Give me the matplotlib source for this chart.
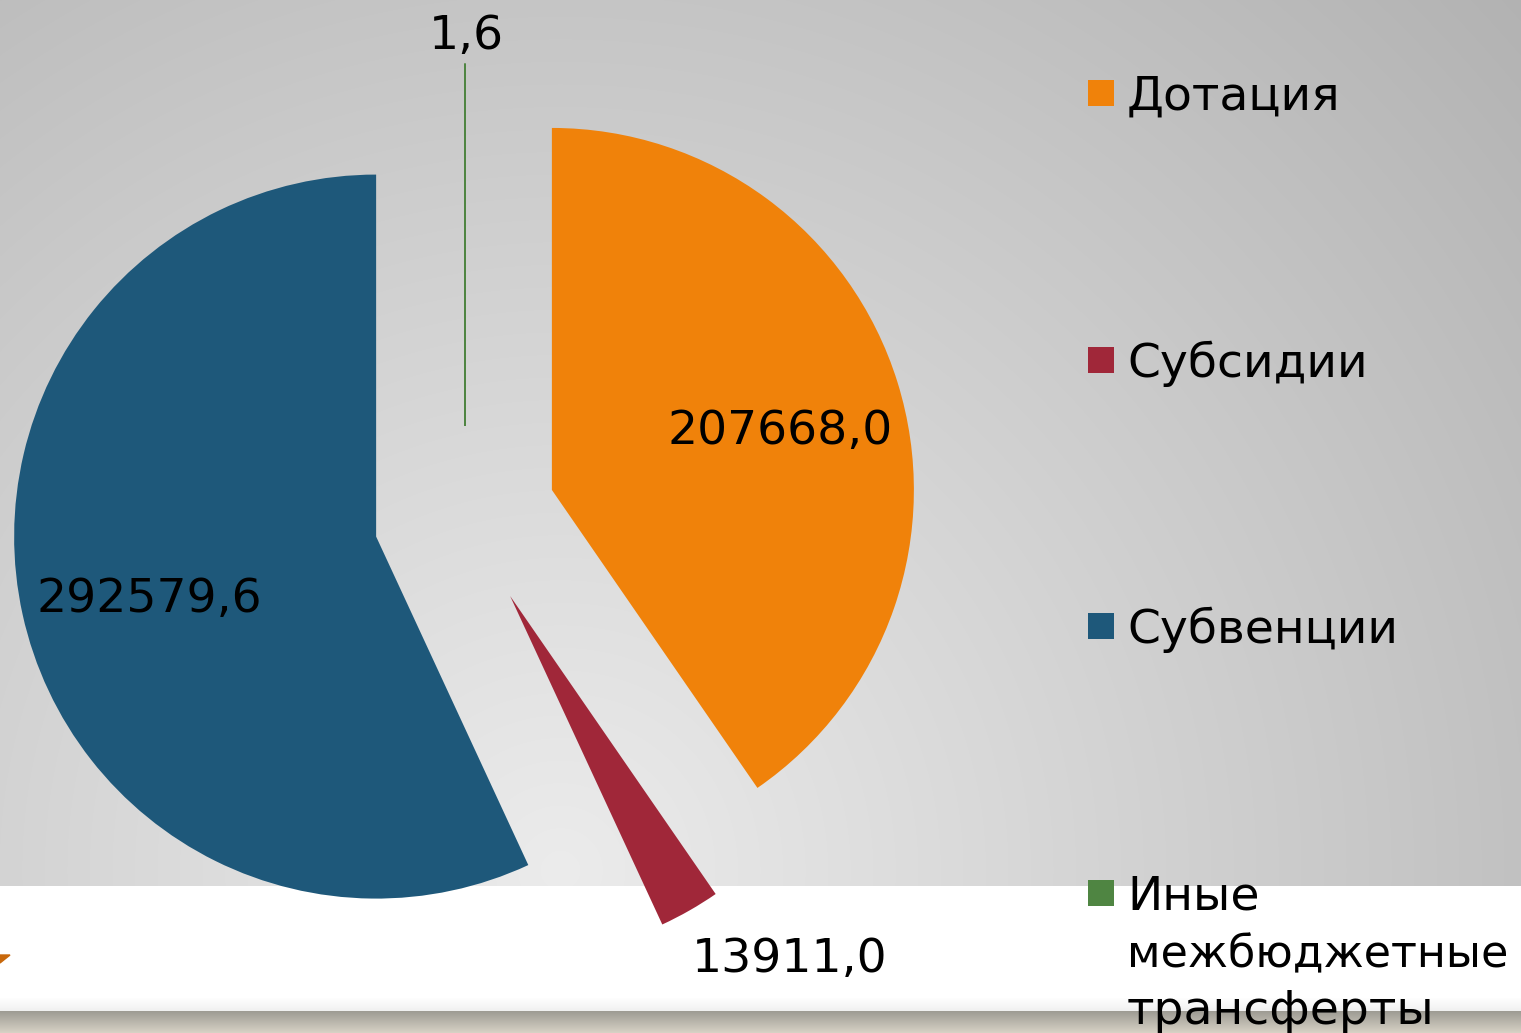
import numpy as np
import matplotlib.pyplot as plt
from matplotlib.patches import Rectangle, Polygon

# data
labels = ["Дотация", "Субсидии", "Субвенции", "Иные\nмежбюджетные\nтрансферты"]
values = [207668.0, 13911.0, 292579.6, 1.6]
value_text = ["207668,0", "13911,0", "292579,6", "1,6"]
colors = ["#F0820A", "#A02739", "#1E587A", "#4F8542"]

W, H = 1521, 1033
plt.rcParams['font.family'] = ['DejaVu Sans']
FS = 34
DY = -4  # nudge text down a little

fig = plt.figure(figsize=(W / 100, H / 100), dpi=100)
ax = fig.add_axes([0, 0, 1, 1])

# slide background: radial grey, white band, dark strip at the bottom
yy, xx = np.mgrid[0:H, 0:W]
d = np.hypot(xx - 560, yy - 870)
g = 0.925 - 0.000174 * d
bg = np.dstack([g, g, g])
band = (yy >= 886) & (yy < 1011)
fade = np.clip((yy - 997) / 14.0, 0, 1)
white = 1.0 - 0.06 * fade
for c in range(3):
    bg[..., c][band] = white[band]
strip = yy >= 1011
t = np.clip((yy - 1011) / 22.0, 0, 1)
top = np.array([0.62, 0.61, 0.58])
bot = np.array([0.85, 0.83, 0.78])
for c in range(3):
    col = top[c] + t * (bot[c] - top[c])
    bg[..., c][strip] = col[strip]
ax.imshow(bg, extent=(0, W, 0, H), origin='upper', zorder=-2, aspect='auto')
ax.add_patch(Polygon([(0, H - 955), (10, H - 955), (0, H - 963)],
                     closed=True, color="#C8680C", zorder=-1))

# exploded pie
cx, cy, R = 465, H - 517, 362
wedges, _ = ax.pie(values, colors=colors, startangle=90, counterclock=False,
                   radius=R, center=(cx, cy), explode=[91] * 4,
                   wedgeprops=dict(linewidth=0))
wedges[3].set_edgecolor(colors[3])
wedges[3].set_linewidth(1.2)

# value labels
lab_dist = [0.65, 1.257, 0.65, 1.086]
lab_shift = [-2, 8, 2, 0]
for w, txt, dist, sh in zip(wedges, value_text, lab_dist, lab_shift):
    a = np.deg2rad((w.theta1 + w.theta2) / 2 + sh)
    x0, y0 = w.center
    ax.text(x0 + dist * R * np.cos(a) + 1, y0 + dist * R * np.sin(a) + DY, txt,
            ha='center', va='center', fontsize=FS, color='black')

# legend
leg_y = [93, 360, 626, 893]
for lab, col, y in zip(labels, colors, leg_y):
    ax.add_patch(Rectangle((1088, H - y - 13), 26, 26, color=col, lw=0))
    for i, line in enumerate(lab.split("\n")):
        fs = FS if len(line) < 11 else 32
        ax.text(1127, H - y - i * 57.5 + DY, line, ha='left', va='center',
                fontsize=fs, color='black')

ax.set_xlim(0, W)
ax.set_ylim(0, H)
ax.set_axis_off()

fig.savefig("out.png", dpi=100)
